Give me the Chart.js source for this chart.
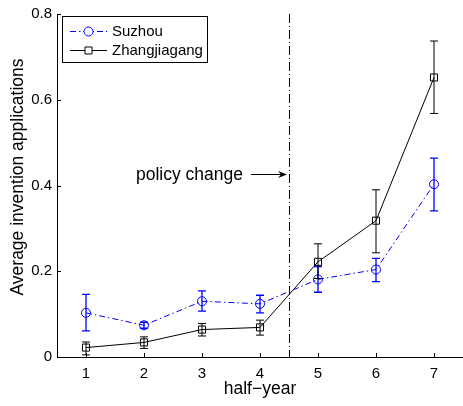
<!DOCTYPE html>
<html lang="en">
<head>
<meta charset="UTF-8">
<title>Average invention applications</title>
<script src="https://cdn.jsdelivr.net/npm/chart.js"></script>
<style>
  html, body { margin: 0; padding: 0; background: #fff; }
  #wrap { width: 463px; height: 406px; }
</style>
</head>
<body>
<div id="wrap"><canvas id="chart"></canvas></div>
<script>
// values
const halfYears = [1, 2, 3, 4, 5, 6, 7];
const xTicks = [1, 2, 3, 4, 5, 6, 7];
const yTicks = [0, 0.2, 0.4, 0.6, 0.8];

const suzhou     = [0.103, 0.074, 0.130, 0.124, 0.181, 0.204, 0.403];
const suzhouHigh = [0.146, 0.081, 0.154, 0.144, 0.211, 0.230, 0.464];
const suzhouLow  = [0.061, 0.067, 0.107, 0.103, 0.151, 0.176, 0.341];

const zhang     = [0.022, 0.034, 0.064, 0.069, 0.222, 0.318, 0.652];
const zhangHigh = [0.035, 0.047, 0.078, 0.086, 0.264, 0.390, 0.737];
const zhangLow  = [0.005, 0.020, 0.049, 0.051, 0.183, 0.243, 0.568];

const policyX = 4.5;
const policyLabel = "policy change";

const BLUE = "#0000ff";
const FONT = "Liberation Sans, Arial, sans-serif";
const suzhouDash = [6, 3, 1.5, 3];

function pts(ys) {
    return halfYears.map((x, i) => ({ x: x, y: ys[i] }));
}

// error bars with caps
const errorBars = {
    id: "errorBars",
    afterDatasetsDraw(chart) {
        const ctx = chart.ctx;
        const xs = chart.scales.x, ys = chart.scales.y;
        const sets = [
            { lo: suzhouLow, hi: suzhouHigh, color: BLUE, w: 1.3 },
            { lo: zhangLow, hi: zhangHigh, color: "#000", w: 1 }
        ];
        ctx.save();
        sets.forEach(s => {
            ctx.strokeStyle = s.color;
            ctx.lineWidth = s.w;
            halfYears.forEach((x, i) => {
                const px = xs.getPixelForValue(x);
                const top = ys.getPixelForValue(s.hi[i]);
                const bot = ys.getPixelForValue(s.lo[i]);
                ctx.beginPath();
                ctx.moveTo(px, top); ctx.lineTo(px, bot);
                ctx.moveTo(px - 4, top); ctx.lineTo(px + 4, top);
                ctx.moveTo(px - 4, bot); ctx.lineTo(px + 4, bot);
                ctx.stroke();
            });
        });
        ctx.restore();
    }
};

// inward ticks, policy line, titles, legend
const decorations = {
    id: "decorations",
    beforeDatasetsDraw(chart) {
        const ctx = chart.ctx;
        const a = chart.chartArea;
        const px = chart.scales.x.getPixelForValue(policyX);
        ctx.save();
        ctx.strokeStyle = "#000";
        ctx.lineWidth = 1;
        ctx.setLineDash([9, 3, 1, 3]);
        ctx.beginPath();
        ctx.moveTo(Math.round(px) + 0.5, a.top);
        ctx.lineTo(Math.round(px) + 0.5, a.bottom);
        ctx.stroke();
        ctx.restore();
    },
    afterDraw(chart) {
        const ctx = chart.ctx;
        const a = chart.chartArea;
        const xs = chart.scales.x, ys = chart.scales.y;
        ctx.save();
        ctx.strokeStyle = "#000";
        ctx.lineWidth = 1;
        ctx.beginPath();
        xTicks.forEach(v => {
            const p = Math.round(xs.getPixelForValue(v)) + 0.5;
            ctx.moveTo(p, a.bottom); ctx.lineTo(p, a.bottom - 4);
        });
        yTicks.forEach(v => {
            const p = Math.round(ys.getPixelForValue(v)) + 0.5;
            ctx.moveTo(a.left, p); ctx.lineTo(a.left + 4, p);
        });
        ctx.stroke();

        // axis titles
        ctx.fillStyle = "#000";
        ctx.font = "17.5px " + FONT;
        ctx.textAlign = "center";
        ctx.textBaseline = "middle";
        ctx.fillText("half\u2212year", (a.left + a.right) / 2, 389);
        ctx.save();
        ctx.translate(18, 177);
        ctx.rotate(-Math.PI / 2);
        ctx.fillText("Average invention applications", 0, 0);
        ctx.restore();

        // policy change annotation
        const lx = xs.getPixelForValue(policyX);
        const ly = 174.5;
        ctx.textAlign = "right";
        ctx.fillText(policyLabel, lx - 46, ly + 1);
        ctx.beginPath();
        ctx.moveTo(lx - 38, ly); ctx.lineTo(lx - 3, ly);
        ctx.stroke();
        ctx.beginPath();
        ctx.moveTo(lx - 2, ly);
        ctx.lineTo(lx - 11, ly - 3.5);
        ctx.lineTo(lx - 8, ly);
        ctx.lineTo(lx - 11, ly + 3.5);
        ctx.closePath();
        ctx.fill();

        // legend
        const bx = 62.5, by = 16.5, bw = 145, bh = 46;
        ctx.fillStyle = "#fff";
        ctx.fillRect(bx, by, bw, bh);
        ctx.strokeRect(bx, by, bw, bh);
        const rows = [
            { label: "Suzhou", color: BLUE, dash: suzhouDash, y: 31 },
            { label: "Zhangjiagang", color: "#000", dash: [], y: 50 }
        ];
        rows.forEach((r, i) => {
            ctx.strokeStyle = r.color;
            ctx.lineWidth = 1;
            ctx.setLineDash(r.dash);
            ctx.beginPath();
            ctx.moveTo(70, r.y + 0.5); ctx.lineTo(107, r.y + 0.5);
            ctx.stroke();
            ctx.setLineDash([]);
            ctx.fillStyle = "#fff";
            ctx.beginPath();
            if (i === 0) {
                ctx.arc(88.5, r.y + 0.5, 4.5, 0, Math.PI * 2);
            } else {
                ctx.rect(85, r.y - 3, 7, 7);
            }
            ctx.fill();
            ctx.stroke();
            ctx.fillStyle = "#000";
            ctx.font = "15px " + FONT;
            ctx.textAlign = "left";
            ctx.textBaseline = "middle";
            ctx.fillText(r.label, 112, r.y + 1);
        });
        ctx.restore();
    }
};

new Chart(document.getElementById("chart"), {
    type: "line",
    data: {
        datasets: [
            {
                label: "Suzhou",
                data: pts(suzhou),
                borderColor: BLUE,
                borderWidth: 1,
                borderDash: suzhouDash,
                pointStyle: "circle",
                pointRadius: 4.5,
                pointBorderColor: BLUE,
                pointBorderWidth: 1,
                pointBackgroundColor: "rgba(0,0,0,0)",
                fill: false,
                tension: 0
            },
            {
                label: "Zhangjiagang",
                data: pts(zhang),
                borderColor: "#000",
                borderWidth: 1,
                pointStyle: "rect",
                pointRadius: 5,
                pointBorderColor: "#000",
                pointBorderWidth: 1,
                pointBackgroundColor: "rgba(0,0,0,0)",
                fill: false,
                tension: 0
            }
        ]
    },
    options: {
        responsive: true,
        maintainAspectRatio: false,
        animation: false,
        devicePixelRatio: 1,
        layout: { autoPadding: false, padding: { top: 12, right: 0, left: 0, bottom: 0 } },
        plugins: { legend: { display: false }, tooltip: { enabled: false } },
        scales: {
            x: {
                type: "linear",
                min: 0.5,
                max: 7.5,
                grid: { display: false, drawTicks: false },
                border: { display: true, color: "#000", width: 1 },
                afterBuildTicks: s => { s.ticks = xTicks.map(v => ({ value: v })); },
                afterFit: s => { s.height = 49; s.paddingLeft = 0; s.paddingRight = 0; },
                ticks: { color: "#000", padding: 8, font: { family: FONT, size: 15 } }
            },
            y: {
                min: 0,
                max: 0.8,
                grid: { display: false, drawTicks: false },
                border: { display: true, color: "#000", width: 1 },
                afterBuildTicks: s => { s.ticks = yTicks.map(v => ({ value: v })); },
                afterFit: s => { s.width = 57; },
                ticks: { color: "#000", padding: 5, font: { family: FONT, size: 15 } }
            }
        }
    },
    plugins: [errorBars, decorations]
});
</script>
</body>
</html>
